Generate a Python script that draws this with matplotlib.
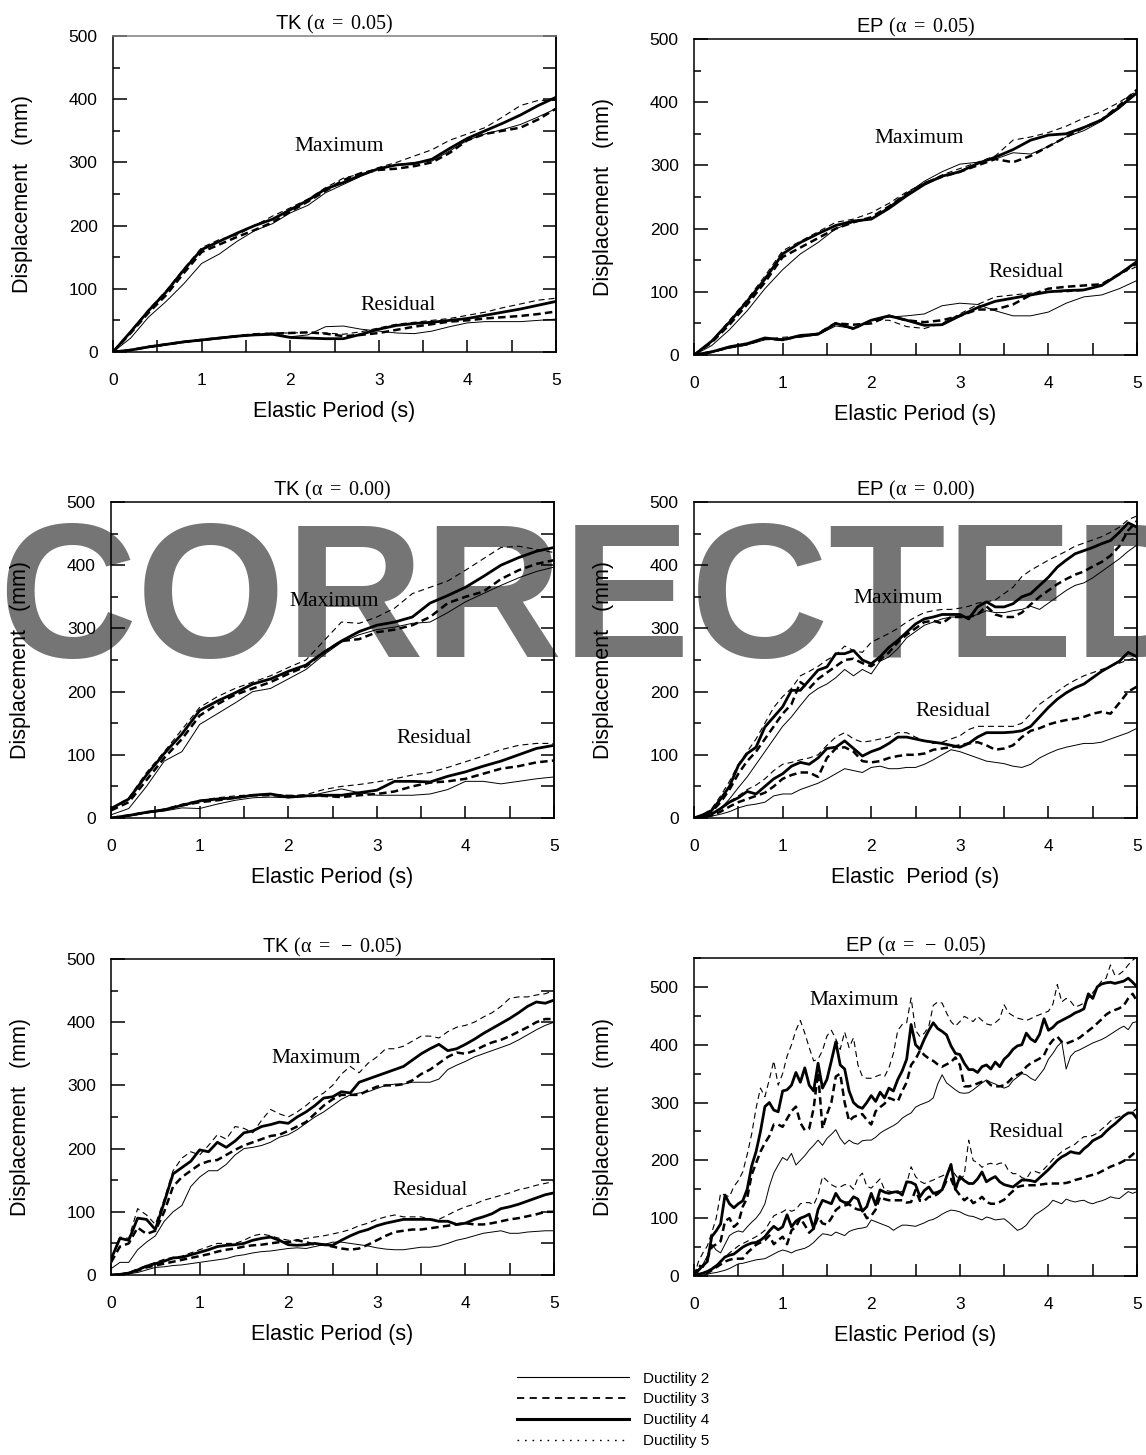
import numpy as np
import matplotlib.pyplot as plt
from matplotlib.lines import Line2D
from matplotlib.ticker import NullLocator

plt.rcParams['font.family'] = ['Liberation Sans', 'DejaVu Sans']
plt.rcParams['mathtext.fontset'] = 'custom'
plt.rcParams['mathtext.rm'] = 'Liberation Serif'
plt.rcParams['mathtext.it'] = 'Liberation Serif:italic'
plt.rcParams['mathtext.bf'] = 'Liberation Serif:bold'
plt.rcParams['mathtext.sf'] = 'Liberation Sans'
plt.rcParams['mathtext.default'] = 'rm'

# sampling grids of elastic period (s)
period_02 = np.linspace(0, 5, 26)
period_01 = np.linspace(0, 5, 51)
period_005 = np.linspace(0, 5, 101)

# ---------------- TK, alpha = 0.05 ----------------
tk005_max_mu2 = [0, 22, 55, 80, 108, 140, 155, 175, 192, 203, 220, 232, 252, 265, 278, 290, 296, 300, 302, 318, 335, 345, 352, 360, 372, 385]
tk005_max_mu3 = [0, 30, 62, 90, 125, 158, 170, 182, 193, 205, 222, 238, 255, 272, 283, 288, 290, 294, 300, 315, 335, 345, 350, 355, 368, 385]
tk005_max_mu4 = [0, 32, 65, 95, 130, 162, 175, 188, 200, 210, 225, 240, 258, 268, 280, 290, 296, 298, 305, 322, 338, 350, 362, 375, 390, 403]
tk005_max_mu5 = [0, 33, 67, 97, 132, 165, 178, 185, 200, 215, 228, 242, 260, 275, 282, 292, 300, 310, 320, 335, 345, 355, 372, 390, 398, 398]
tk005_res_mu2 = [0, 3, 7, 11, 15, 18, 21, 24, 27, 28, 24, 27, 40, 41, 36, 33, 30, 29, 33, 40, 46, 48, 48, 48, 50, 52]
tk005_res_mu3 = [0, 3, 8, 12, 16, 19, 22, 25, 28, 29, 30, 31, 29, 25, 27, 30, 35, 40, 44, 48, 50, 53, 55, 57, 60, 64]
tk005_res_mu4 = [0, 3, 8, 12, 16, 19, 22, 25, 27, 28, 23, 22, 21, 21, 28, 36, 42, 45, 47, 50, 53, 58, 63, 68, 74, 80]
tk005_res_mu5 = [0, 3, 8, 12, 16, 19, 22, 25, 28, 30, 30, 31, 30, 28, 32, 38, 44, 47, 50, 53, 58, 63, 70, 76, 82, 85]

# ---------------- EP, alpha = 0.05 ----------------
ep005_max_mu2 = [0, 15, 40, 70, 105, 135, 160, 178, 200, 210, 215, 235, 255, 275, 290, 302, 305, 310, 320, 318, 330, 345, 355, 370, 390, 415]
ep005_max_mu3 = [0, 20, 48, 80, 115, 155, 170, 185, 200, 210, 218, 235, 255, 272, 282, 290, 300, 310, 305, 315, 330, 345, 360, 372, 395, 420]
ep005_max_mu4 = [0, 22, 52, 85, 120, 160, 178, 192, 205, 212, 215, 232, 252, 270, 283, 290, 303, 313, 325, 340, 348, 350, 360, 372, 392, 415]
ep005_max_mu5 = [0, 22, 55, 88, 125, 165, 180, 195, 210, 215, 225, 240, 258, 272, 285, 295, 305, 315, 340, 345, 352, 362, 375, 385, 400, 418]
ep005_res_mu2 = [0, 4, 11, 16, 24, 26, 28, 32, 46, 42, 55, 60, 62, 65, 78, 82, 80, 70, 62, 62, 68, 82, 92, 95, 105, 118]
ep005_res_mu3 = [0, 5, 12, 17, 26, 24, 30, 33, 50, 48, 50, 62, 55, 52, 55, 62, 72, 72, 80, 95, 105, 108, 110, 112, 128, 145]
ep005_res_mu4 = [0, 5, 13, 18, 27, 24, 31, 33, 50, 42, 55, 62, 55, 47, 48, 62, 75, 85, 90, 95, 100, 102, 103, 110, 128, 148]
ep005_res_mu5 = [0, 5, 12, 18, 25, 28, 30, 35, 52, 40, 55, 55, 45, 42, 50, 65, 80, 92, 95, 98, 100, 100, 102, 112, 128, 140]

# ---------------- TK, alpha = 0.00 ----------------
tk000_max_mu2 = [5, 15, 50, 90, 105, 148, 165, 182, 200, 205, 220, 235, 258, 278, 290, 298, 302, 308, 310, 325, 342, 355, 368, 380, 390, 397]
tk000_max_mu3 = [12, 25, 60, 95, 125, 162, 180, 195, 205, 215, 228, 240, 262, 280, 283, 294, 298, 305, 318, 340, 350, 358, 378, 392, 402, 408]
tk000_max_mu4 = [15, 30, 68, 102, 133, 170, 185, 198, 212, 220, 232, 242, 262, 280, 295, 305, 310, 318, 340, 352, 365, 382, 400, 412, 422, 428]
tk000_max_mu5 = [15, 32, 72, 105, 140, 175, 192, 205, 215, 225, 238, 250, 280, 310, 308, 318, 332, 355, 365, 375, 392, 410, 428, 430, 425, 420]
tk000_res_mu2 = [0, 3, 8, 11, 16, 15, 22, 28, 32, 33, 32, 34, 40, 46, 40, 36, 36, 36, 38, 45, 58, 58, 54, 58, 62, 65]
tk000_res_mu3 = [0, 4, 9, 13, 20, 25, 28, 32, 36, 36, 35, 35, 35, 33, 36, 38, 42, 50, 56, 58, 62, 70, 78, 82, 88, 91]
tk000_res_mu4 = [0, 4, 9, 13, 20, 27, 30, 32, 36, 38, 33, 35, 36, 36, 40, 44, 58, 58, 57, 66, 73, 82, 90, 100, 110, 115]
tk000_res_mu5 = [0, 4, 9, 14, 22, 28, 32, 35, 37, 38, 35, 37, 45, 50, 53, 57, 62, 68, 72, 80, 89, 98, 108, 115, 118, 118]

# ---------------- EP, alpha = 0.00 ----------------
ep000_max_mu2 = [0, 2, 6, 15, 30, 48, 65, 85, 105, 125, 145, 160, 178, 195, 205, 212, 222, 235, 225, 235, 228,
                 248, 255, 268, 285, 295, 305, 310, 315, 318, 318, 318, 322, 328, 325, 325, 328, 330, 335, 330, 340,
                 350, 360, 368, 372, 380, 390, 400, 410, 422, 432]
ep000_max_mu3 = [0, 3, 10, 25, 45, 70, 90, 105, 125, 145, 165, 180, 215, 205, 220, 230, 240, 250, 252, 245, 240,
                 250, 262, 278, 290, 300, 310, 312, 308, 318, 318, 318, 322, 335, 322, 318, 318, 325, 338, 350, 360,
                 370, 378, 385, 390, 398, 405, 415, 430, 455, 470]
ep000_max_mu4 = [0, 5, 12, 30, 50, 83, 102, 112, 144, 160, 176, 202, 202, 218, 234, 239, 260, 260, 265, 250, 244,
                 255, 270, 281, 294, 307, 315, 318, 322, 322, 322, 315, 334, 342, 334, 334, 339, 350, 355, 368, 381,
                 397, 408, 418, 423, 428, 434, 439, 452, 467, 460]
ep000_max_mu5 = [0, 5, 15, 35, 58, 85, 105, 125, 150, 175, 192, 205, 225, 232, 240, 250, 258, 272, 265, 262, 278,
                 285, 292, 300, 310, 318, 325, 328, 330, 330, 332, 335, 340, 342, 345, 355, 365, 382, 392, 400, 408,
                 415, 422, 430, 435, 440, 445, 452, 460, 472, 478]
ep000_res_mu2 = [0, 1, 3, 6, 10, 16, 20, 22, 25, 35, 38, 38, 45, 50, 55, 62, 70, 78, 75, 72, 80,
                 82, 78, 78, 80, 80, 85, 92, 100, 108, 105, 100, 95, 90, 88, 86, 82, 80, 85, 95, 102,
                 108, 112, 115, 118, 118, 120, 125, 130, 135, 142]
ep000_res_mu3 = [0, 1, 4, 10, 18, 25, 30, 35, 40, 50, 62, 68, 72, 72, 65, 95, 110, 112, 105, 90, 88,
                 90, 95, 98, 100, 100, 102, 108, 110, 112, 115, 118, 120, 115, 108, 110, 115, 128, 138, 142, 148,
                 152, 155, 157, 160, 165, 168, 165, 182, 200, 208]
ep000_res_mu4 = [0, 2, 6, 15, 25, 32, 42, 38, 50, 62, 70, 82, 88, 85, 95, 110, 112, 122, 110, 98, 105,
                 110, 118, 128, 128, 125, 122, 120, 118, 115, 112, 118, 128, 135, 135, 135, 136, 138, 145, 160, 175,
                 188, 198, 206, 212, 222, 232, 240, 248, 262, 255]
ep000_res_mu5 = [0, 2, 7, 16, 26, 35, 45, 52, 62, 75, 85, 88, 92, 95, 100, 115, 128, 135, 125, 120, 122,
                 125, 128, 135, 135, 128, 122, 118, 120, 125, 130, 140, 145, 145, 145, 145, 145, 150, 165, 180, 190,
                 200, 210, 218, 225, 230, 235, 240, 245, 250, 255]

# ---------------- TK, alpha = -0.05 ----------------
tkm005_max_mu2 = [10, 20, 20, 40, 52, 62, 85, 100, 110, 140, 155, 165, 165, 175, 190, 200, 202, 205, 210, 218, 222,
                  230, 240, 250, 258, 268, 278, 285, 288, 290, 295, 300, 302, 302, 305, 305, 305, 310, 325, 332, 338,
                  345, 350, 355, 360, 365, 372, 380, 388, 395, 400]
tkm005_max_mu3 = [20, 45, 50, 75, 65, 70, 100, 140, 155, 165, 175, 180, 182, 190, 198, 205, 210, 215, 220, 222, 228,
                  235, 242, 255, 268, 278, 285, 285, 285, 292, 298, 300, 300, 302, 308, 318, 325, 335, 345, 352, 350,
                  355, 362, 368, 372, 378, 385, 392, 400, 405, 405]
tkm005_max_mu4 = [25, 58, 55, 90, 88, 72, 115, 160, 170, 180, 198, 195, 210, 202, 212, 225, 228, 235, 238, 242, 240,
                  250, 258, 268, 280, 282, 290, 288, 305, 310, 315, 320, 325, 330, 340, 350, 358, 365, 355, 358, 365,
                  373, 382, 390, 398, 406, 415, 425, 432, 430, 435]
tkm005_max_mu5 = [25, 60, 58, 105, 95, 80, 120, 165, 185, 195, 190, 205, 222, 215, 235, 232, 225, 245, 262, 255, 250,
                  258, 268, 280, 288, 300, 318, 330, 320, 335, 345, 358, 358, 362, 370, 378, 378, 375, 385, 392, 395,
                  400, 408, 415, 425, 438, 440, 440, 443, 445, 450]
tkm005_res_mu2 = [0, 1, 2, 4, 8, 12, 13, 15, 16, 18, 20, 22, 24, 26, 30, 32, 35, 37, 38, 40, 42,
                  43, 42, 45, 48, 52, 52, 50, 48, 46, 43, 41, 40, 40, 42, 44, 44, 46, 50, 55, 58,
                  62, 66, 68, 70, 66, 66, 68, 69, 70, 70]
tkm005_res_mu3 = [0, 1, 3, 7, 12, 15, 18, 21, 24, 27, 30, 33, 37, 40, 42, 45, 47, 48, 50, 52, 52,
                  55, 52, 48, 48, 45, 42, 40, 42, 48, 55, 62, 68, 70, 72, 72, 74, 76, 78, 80, 82,
                  80, 80, 82, 85, 88, 90, 93, 96, 100, 100]
tkm005_res_mu4 = [0, 1, 3, 8, 14, 18, 22, 27, 28, 32, 36, 40, 45, 47, 48, 50, 55, 58, 60, 55, 48,
                  47, 48, 50, 48, 47, 55, 62, 68, 72, 78, 82, 85, 88, 88, 88, 88, 85, 85, 80, 82,
                  88, 92, 97, 105, 108, 112, 117, 122, 127, 130]
tkm005_res_mu5 = [0, 1, 4, 10, 15, 20, 25, 28, 30, 35, 40, 45, 50, 50, 50, 55, 62, 65, 62, 58, 55,
                  55, 58, 60, 62, 65, 68, 72, 78, 82, 88, 92, 95, 92, 92, 92, 88, 88, 95, 102, 108,
                  112, 118, 122, 126, 130, 135, 138, 142, 145, 148]

# ---------------- EP, alpha = -0.05 ----------------
epm005_max_mu2 = [0, 10, 20, 35, 55, 45, 40, 55, 70, 75,
                  78, 76, 85, 93, 100, 110, 125, 155, 178, 192,
                  205, 200, 212, 192, 200, 208, 218, 226, 235, 226,
                  238, 245, 253, 238, 228, 235, 230, 228, 234, 235,
                  235, 240, 247, 252, 256, 260, 265, 273, 278, 282,
                  292, 296, 299, 302, 308, 332, 348, 334, 328, 322,
                  317, 316, 317, 322, 328, 334, 339, 335, 332, 328,
                  325, 328, 338, 344, 350, 348, 342, 338, 348, 358,
                  375, 385, 397, 405, 358, 380, 388, 391, 395, 399,
                  403, 406, 409, 413, 418, 423, 428, 432, 426, 438,
                  440]
epm005_max_mu3 = [0, 18, 16, 30, 50, 55, 60, 95, 100, 85,
                  92, 120, 135, 175, 195, 215, 230, 242, 262, 262,
                  258, 272, 285, 293, 265, 252, 255, 290, 352, 255,
                  280, 300, 345, 350, 300, 268, 275, 278, 280, 270,
                  262, 285, 292, 298, 308, 305, 302, 320, 335, 365,
                  375, 390, 382, 376, 372, 366, 362, 366, 370, 378,
                  365, 328, 328, 330, 333, 336, 338, 330, 328, 328,
                  330, 336, 344, 348, 352, 362, 368, 372, 376, 382,
                  398, 408, 414, 405, 402, 405, 408, 412, 418, 424,
                  430, 437, 444, 452, 457, 460, 463, 468, 480, 488,
                  475]
epm005_max_mu4 = [0, 10, 18, 25, 68, 78, 90, 140, 125, 118,
                  125, 130, 150, 190, 215, 250, 293, 300, 287, 284,
                  320, 322, 330, 352, 335, 360, 330, 320, 368, 325,
                  340, 372, 405, 365, 358, 320, 300, 293, 290, 300,
                  312, 302, 318, 308, 325, 320, 340, 355, 375, 435,
                  400, 392, 410, 425, 438, 428, 423, 417, 398, 385,
                  383, 368, 357, 357, 352, 362, 365, 358, 370, 362,
                  375, 382, 392, 398, 400, 420, 410, 405, 418, 445,
                  425, 430, 438, 442, 446, 450, 455, 458, 462, 488,
                  480, 500, 505, 507, 508, 506, 508, 510, 515, 508,
                  500]
epm005_max_mu5 = [0, 25, 40, 52, 75, 100, 143, 140, 137, 155,
                  165, 180, 210, 245, 290, 325, 310, 340, 372, 330,
                  350, 380, 400, 425, 442, 420, 395, 372, 375, 390,
                  415, 425, 410, 392, 422, 395, 412, 365, 345, 342,
                  342, 345, 348, 345, 360, 385, 425, 435, 438, 481,
                  425, 414, 420, 432, 468, 474, 472, 455, 440, 432,
                  440, 449, 445, 440, 449, 442, 436, 434, 438, 445,
                  469, 455, 450, 446, 444, 442, 445, 449, 452, 455,
                  458, 470, 504, 474, 480, 475, 465, 468, 472, 480,
                  490, 500, 510, 515, 538, 520, 522, 528, 538, 546,
                  552]
epm005_res_mu2 = [0, 1, 2, 3, 5, 6, 8, 10, 13, 17,
                  21, 22, 24, 26, 28, 29, 30, 34, 38, 42,
                  45, 43, 40, 44, 46, 48, 52, 58, 66, 73,
                  72, 70, 76, 73, 70, 77, 80, 82, 83, 85,
                  97, 94, 91, 88, 85, 79, 84, 88, 88, 87,
                  86, 89, 92, 96, 98, 102, 107, 111, 114, 113,
                  111, 107, 104, 103, 100, 97, 102, 100, 97, 98,
                  99, 93, 86, 79, 82, 88, 98, 106, 111, 116,
                  122, 131, 128, 125, 133, 130, 128, 130, 131, 127,
                  125, 128, 130, 133, 137, 135, 134, 140, 146, 143,
                  146]
epm005_res_mu3 = [0, 1, 3, 5, 10, 15, 20, 25, 28, 30,
                  30, 30, 40, 47, 54, 58, 62, 70, 55, 62,
                  68, 55, 79, 85, 100, 88, 75, 82, 102, 91,
                  89, 100, 114, 120, 122, 124, 118, 115, 114, 100,
                  104, 115, 137, 133, 131, 131, 131, 131, 127, 128,
                  149, 130, 130, 137, 137, 142, 149, 165, 168, 150,
                  140, 131, 137, 126, 130, 137, 128, 125, 125, 128,
                  132, 140, 147, 154, 156, 157, 157, 157, 158, 159,
                  160, 160, 160, 160, 161, 163, 166, 168, 170, 173,
                  175, 177, 181, 185, 189, 192, 195, 199, 204, 210,
                  218]
epm005_res_mu4 = [0, 3, 5, 8, 12, 17, 25, 33, 36, 38,
                  44, 50, 54, 57, 58, 62, 68, 78, 86, 80,
                  85, 106, 85, 95, 100, 103, 107, 82, 115, 131,
                  128, 125, 143, 131, 127, 127, 137, 133, 112, 120,
                  143, 123, 149, 145, 143, 145, 146, 140, 163, 162,
                  158, 137, 148, 154, 143, 145, 149, 172, 193, 150,
                  172, 165, 160, 160, 168, 180, 163, 168, 172, 163,
                  158, 156, 154, 160, 166, 166, 165, 163, 170, 177,
                  184, 192, 200, 206, 210, 215, 213, 212, 220, 226,
                  234, 238, 242, 250, 257, 263, 270, 277, 282, 282,
                  272]
epm005_res_mu5 = [0, 2, 4, 8, 14, 19, 25, 32, 40, 46,
                  52, 56, 60, 64, 68, 73, 79, 92, 104, 108,
                  111, 116, 112, 115, 125, 127, 127, 123, 140, 172,
                  165, 158, 154, 154, 158, 158, 150, 170, 178, 155,
                  152, 160, 168, 149, 147, 145, 143, 147, 160, 189,
                  172, 164, 160, 163, 166, 170, 173, 177, 185, 175,
                  165, 175, 235, 200, 196, 188, 193, 195, 192, 195,
                  196, 182, 177, 177, 170, 168, 180, 181, 178, 185,
                  193, 202, 208, 215, 220, 224, 228, 235, 241, 241,
                  243, 247, 254, 260, 268, 273, 276, 278, 281, 284,
                  290]

ductility_labels = ["Ductility 2", "Ductility 3", "Ductility 4", "Ductility 5"]

# line style per ductility (2, 3, 4, 5)
curve_styles = [
    dict(color='black', lw=0.7, ls='-'),
    dict(color='black', lw=1.8, ls=(0, (3, 1.7))),
    dict(color='black', lw=2.0, ls='-'),
    dict(color='black', lw=0.8, ls=(0, (5.4, 3.6))),
]

panels = [
    dict(rect=[0.0986, 0.7581, 0.3866, 0.2172], title=r"TK $(\alpha\ =\ 0.05)$", period=period_02,
         maxi=[tk005_max_mu2, tk005_max_mu3, tk005_max_mu4, tk005_max_mu5],
         resi=[tk005_res_mu2, tk005_res_mu3, tk005_res_mu4, tk005_res_mu5],
         ytop=500, max_xy=(2.55, 325), res_xy=(3.22, 74), xlabel="Elastic Period (s)"),
    dict(rect=[0.6056, 0.7560, 0.3866, 0.2172], title=r"EP $(\alpha\ =\ 0.05)$", period=period_02,
         maxi=[ep005_max_mu2, ep005_max_mu3, ep005_max_mu4, ep005_max_mu5],
         resi=[ep005_res_mu2, ep005_res_mu3, ep005_res_mu4, ep005_res_mu5],
         ytop=500, max_xy=(2.54, 342), res_xy=(3.75, 131), xlabel="Elastic Period (s)"),
    dict(rect=[0.0969, 0.4378, 0.3866, 0.2172], title=r"TK $(\alpha\ =\ 0.00)$", period=period_02,
         maxi=[tk000_max_mu2, tk000_max_mu3, tk000_max_mu4, tk000_max_mu5],
         resi=[tk000_res_mu2, tk000_res_mu3, tk000_res_mu4, tk000_res_mu5],
         ytop=500, max_xy=(2.52, 342), res_xy=(3.65, 125), xlabel="Elastic Period (s)"),
    dict(rect=[0.6056, 0.4378, 0.3866, 0.2172], title=r"EP $(\alpha\ =\ 0.00)$", period=period_01,
         maxi=[ep000_max_mu2, ep000_max_mu3, ep000_max_mu4, ep000_max_mu5],
         resi=[ep000_res_mu2, ep000_res_mu3, ep000_res_mu4, ep000_res_mu5],
         ytop=500, max_xy=(2.30, 348), res_xy=(2.92, 168), xlabel="Elastic  Period (s)"),
    dict(rect=[0.0969, 0.1237, 0.3866, 0.2172], title=r"TK $(\alpha\ =\ -\ 0.05)$", period=period_01,
         maxi=[tkm005_max_mu2, tkm005_max_mu3, tkm005_max_mu4, tkm005_max_mu5],
         resi=[tkm005_res_mu2, tkm005_res_mu3, tkm005_res_mu4, tkm005_res_mu5],
         ytop=500, max_xy=(2.32, 342), res_xy=(3.60, 133), xlabel="Elastic Period (s)"),
    dict(rect=[0.6056, 0.1230, 0.3866, 0.2186], title=r"EP $(\alpha\ =\ -\ 0.05)$", period=period_005,
         maxi=[epm005_max_mu2, epm005_max_mu3, epm005_max_mu4, epm005_max_mu5],
         resi=[epm005_res_mu2, epm005_res_mu3, epm005_res_mu4, epm005_res_mu5],
         ytop=550, max_xy=(1.81, 476), res_xy=(3.75, 249), xlabel="Elastic Period (s)"),
]

fig = plt.figure(figsize=(11.46, 14.55), dpi=100)

for i, p in enumerate(panels):
    ax = fig.add_axes(p['rect'])
    for vals, st in zip(p['maxi'], curve_styles):
        ax.plot(p['period'], vals, **st)
    for vals, st in zip(p['resi'], curve_styles):
        ax.plot(p['period'], vals, **st)

    ax.set_xlim(0, 5)
    ax.set_ylim(0, p['ytop'])
    ax.set_xticks(range(6))
    ax.set_xticks(np.arange(0.5, 5, 1), minor=True)
    ax.set_yticks(range(0, 501, 100))
    ax.set_yticks(np.arange(50, p['ytop'] + 1, 100), minor=True)
    ax.tick_params(axis='x', which='both', direction='in', length=9, width=1.1,
                   top=False, bottom=True, pad=15, labelsize=12.5)
    ax.tick_params(axis='y', which='major', direction='in', length=10, width=1.1,
                   right=False, pad=11, labelsize=12.5)
    ax.tick_params(axis='y', which='minor', direction='in', length=5, width=1.1, right=False)
    for s in ax.spines.values():
        s.set_linewidth(1.1)
    if i == 0:
        ax.spines['top'].set_color('#808080')

    # right-hand ticks every 50 mm, no labels
    sec = ax.secondary_yaxis('right')
    sec.set_yticks(np.arange(0, p['ytop'] + 1, 50))
    sec.yaxis.set_minor_locator(NullLocator())
    sec.tick_params(axis='y', direction='in', length=9.5, width=1.1, labelright=False)
    sec.spines['right'].set_linewidth(1.1)

    ax.set_title(p['title'], fontsize=14.5, pad=5)
    ax.set_xlabel(p['xlabel'], fontsize=15.5)
    ax.xaxis.set_label_coords(0.5, -0.155)
    ax.set_ylabel("Displacement   (mm)", fontsize=15.5)
    ax.yaxis.set_label_coords(-0.18, 0.5)

    ax.text(*p['max_xy'], "Maximum", family='Liberation Serif', fontsize=15.5, ha='center', va='center')
    ax.text(*p['res_xy'], "Residual", family='Liberation Serif', fontsize=15.5, ha='center', va='center')

# legend below the panels
handles = [
    Line2D([], [], color='black', lw=0.8),
    Line2D([], [], color='black', lw=1.3, ls=(0, (4, 3))),
    Line2D([], [], color='black', lw=2.2),
    Line2D([], [], color='black', lw=1.0, ls=(0, (1.2, 4.2))),
]
fig.legend(handles, ductility_labels, loc='center', bbox_to_anchor=(0.535, 0.031), frameon=False,
           fontsize=11, handlelength=7.3, handletextpad=0.9, labelspacing=0.45)

# stamp across the middle row
fig.text(-0.002, 0.5485, "CORRECTED", fontsize=138, fontweight='bold', family='Liberation Sans',
         color='black', alpha=0.54, ha='left', va='baseline', zorder=10)

fig.savefig('out.png', dpi=100)
